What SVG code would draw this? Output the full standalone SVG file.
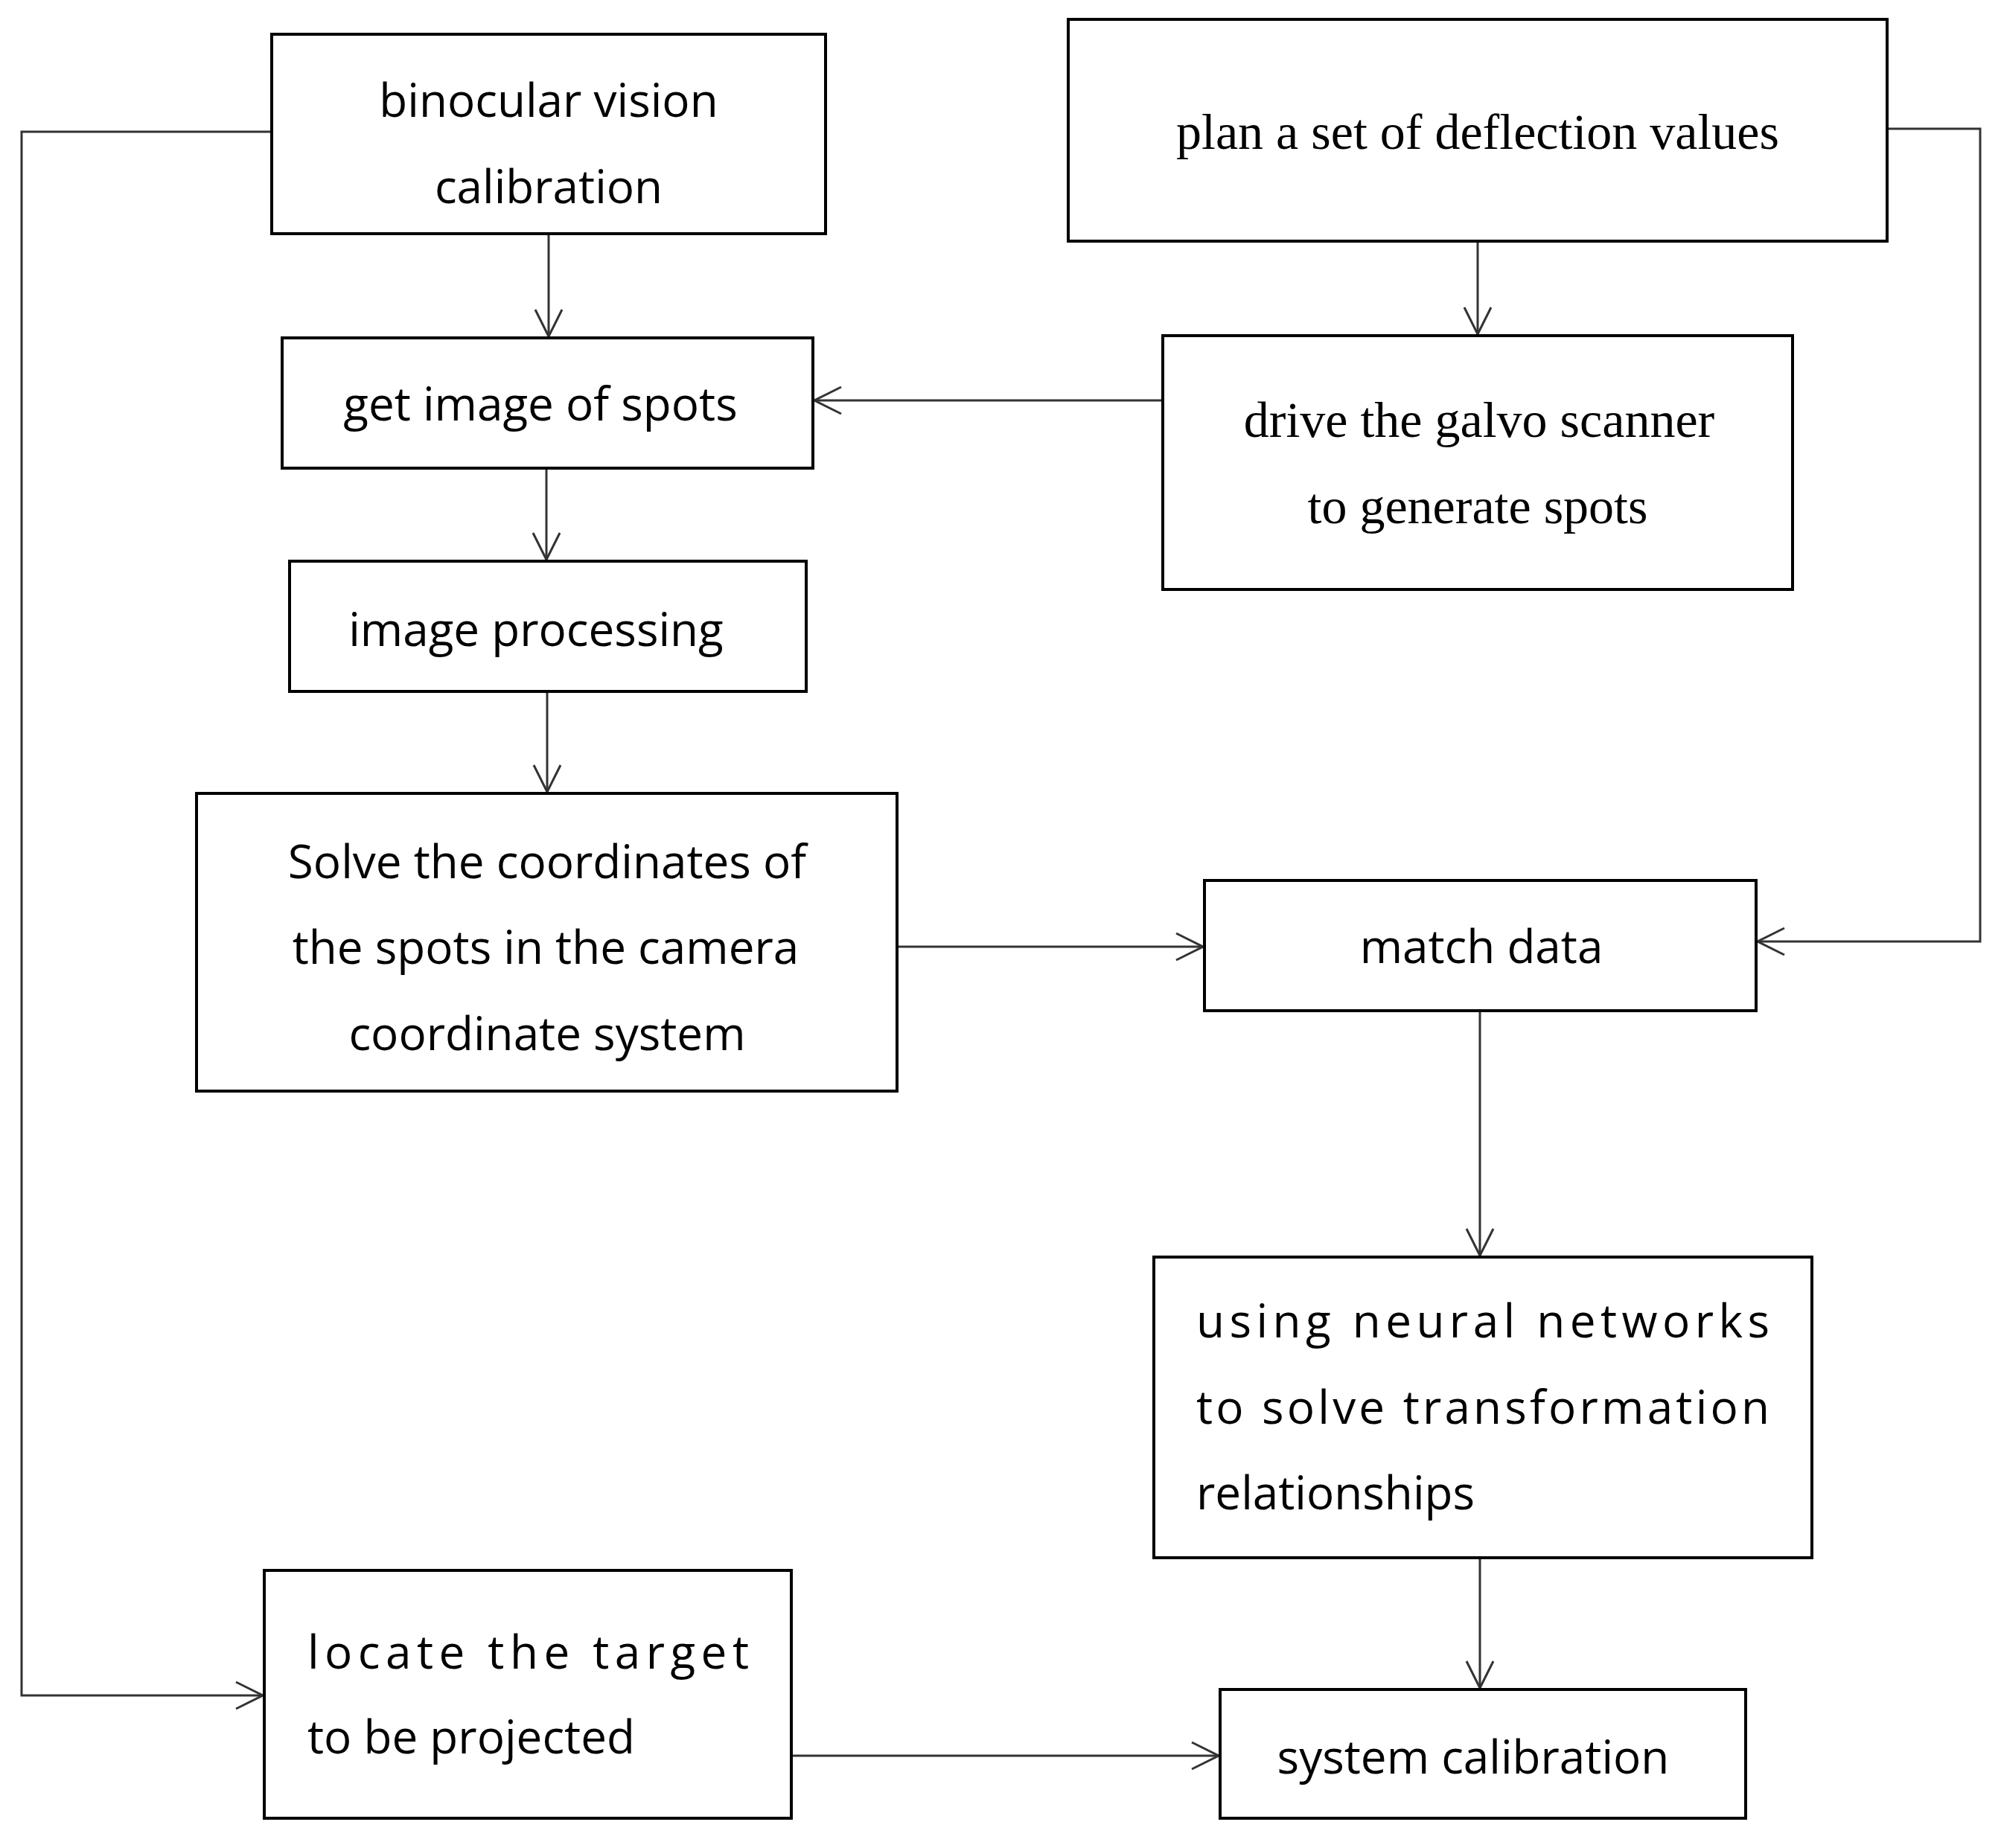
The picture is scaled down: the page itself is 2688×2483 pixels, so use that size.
<svg xmlns="http://www.w3.org/2000/svg" width="2688" height="2483" viewBox="0 0 2688 2483">
<style>
.b{fill:#fff;stroke:#000;stroke-width:4}
.s{font-family:"Open Sans","Liberation Sans",sans-serif;font-size:62px;fill:#000}
.r{font-family:"Liberation Serif",serif;font-size:68px;fill:#000}
.c{fill:none;stroke:#333;stroke-width:3}
</style>
<defs><marker id="a" markerWidth="20" markerHeight="20" refX="18" refY="10" orient="auto" markerUnits="userSpaceOnUse"><path d="M0,0 L18,10 L0,20" fill="none" stroke="#333" stroke-width="3"/></marker>
<marker id="m" viewBox="0 0 40 40" markerWidth="40" markerHeight="40" refX="38" refY="20" orient="auto" markerUnits="userSpaceOnUse"><path d="M2,2 L38,20 L2,38" fill="none" stroke="#333" stroke-width="3"/></marker></defs>
<rect width="2688" height="2483" fill="#fff"/>
<g id="connectors">
<path class="c" d="M365,177 H29 V2278 H353" marker-end="url(#m)"/>
<path class="c" d="M737,314 V452" marker-end="url(#m)"/>
<path class="c" d="M1985,324 V449" marker-end="url(#m)"/>
<path class="c" d="M1562,538 H1094" marker-end="url(#m)"/>
<path class="c" d="M734,629 V752" marker-end="url(#m)"/>
<path class="c" d="M735,929 V1064" marker-end="url(#m)"/>
<path class="c" d="M2535,173 H2660 V1265 H2361" marker-end="url(#m)"/>
<path class="c" d="M1205,1272 H1616" marker-end="url(#m)"/>
<path class="c" d="M1988,1358 V1687" marker-end="url(#m)"/>
<path class="c" d="M1988,2093 V2268" marker-end="url(#m)"/>
<path class="c" d="M1063,2359 H1637" marker-end="url(#m)"/>
</g>
<g id="n1"><rect class="b" x="365" y="46" width="744" height="268"/><text class="s" x="737" y="157" text-anchor="middle">binocular vision</text><text class="s" x="737" y="273" text-anchor="middle">calibration</text></g>
<g id="n2"><rect class="b" x="1435" y="26" width="1100" height="298"/><text class="r" x="1985" y="200" text-anchor="middle">plan a set of deflection values</text></g>
<g id="n3"><rect class="b" x="379" y="454" width="713" height="175"/><text class="s" x="726" y="565" text-anchor="middle">get image of spots</text></g>
<g id="n4"><rect class="b" x="1562" y="451" width="846" height="341"/><text class="r" x="1987" y="587" text-anchor="middle">drive the galvo scanner</text><text class="r" x="1985" y="703" text-anchor="middle">to generate spots</text></g>
<g id="n5"><rect class="b" x="389" y="754" width="694" height="175"/><text class="s" x="720" y="868" text-anchor="middle">image processing</text></g>
<g id="n6"><rect class="b" x="264" y="1066" width="941" height="400"/><text class="s" x="735" y="1180" text-anchor="middle">Solve the coordinates of</text><text class="s" x="733" y="1295" text-anchor="middle">the spots in the camera</text><text class="s" x="735" y="1411" text-anchor="middle">coordinate system</text></g>
<g id="n7"><rect class="b" x="1618" y="1183" width="741" height="175"/><text class="s" x="1990" y="1294" text-anchor="middle">match data</text></g>
<g id="n8"><rect class="b" x="1550" y="1689" width="884" height="404"/><text class="s" x="1607" y="1797" textLength="770" lengthAdjust="spacing">using neural networks</text><text class="s" x="1607" y="1913" textLength="770" lengthAdjust="spacing">to solve transformation</text><text class="s" x="1607" y="2028">relationships</text></g>
<g id="n9"><rect class="b" x="355" y="2110" width="708" height="333"/><text class="s" x="413" y="2242" textLength="593" lengthAdjust="spacing">locate the target</text><text class="s" x="413" y="2356">to be projected</text></g>
<g id="n10"><rect class="b" x="1639" y="2270" width="706" height="173"/><text class="s" x="1979" y="2383" text-anchor="middle">system calibration</text></g>
</svg>
